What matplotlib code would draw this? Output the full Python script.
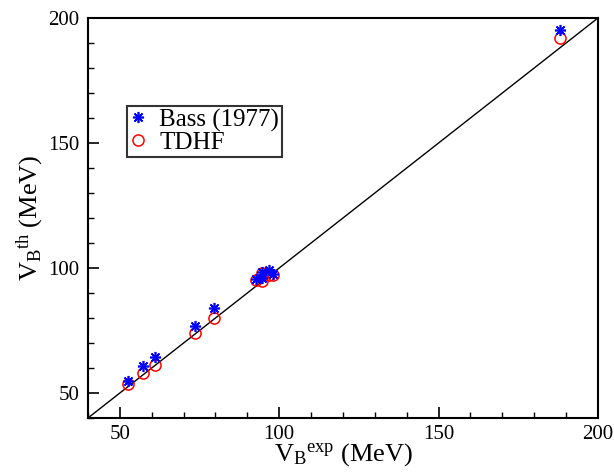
import matplotlib
matplotlib.use("Agg")
import matplotlib.pyplot as plt
import numpy as np

plt.rcParams['font.family'] = ['Liberation Serif', 'DejaVu Serif']
plt.rcParams['mathtext.fontset'] = 'custom'
plt.rcParams['mathtext.rm'] = 'Liberation Serif'
plt.rcParams['mathtext.it'] = 'Liberation Serif'

# experimental barriers (MeV)
v_exp = [52.6, 57.4, 61.0, 73.6, 79.5, 92.6, 94.6, 94.7, 96.9, 97.9, 188.0]
# theory
v_bass = [54.8, 60.9, 64.3, 76.8, 84.1, 95.5, 98.5, 96.0, 99.2, 97.7, 195.0]
v_tdhf = [53.5, 57.9, 61.3, 74.1, 79.9, 95.2, 98.1, 94.9, 97.2, 97.3, 192.0]
diag = [40, 200]

fig = plt.figure(figsize=(6.14, 4.73), dpi=100)
ax = fig.add_axes([0.1433, 0.1163, 0.8306, 0.8457])

ax.plot(diag, diag, color='black', lw=1.0, zorder=1)
ax.plot(v_exp, v_bass, ls='none', marker=(8, 2, 0), ms=8, mew=1.2,
        color='blue', label='Bass (1977)', zorder=3)
ax.plot(v_exp, v_tdhf, ls='none', marker='o', ms=8, mfc='none', mew=1.1,
        color='red', label='TDHF', zorder=2)

ax.set_xlim(40, 200)
ax.set_ylim(40, 200)
ax.set_xticks([50, 100, 150, 200])
ax.set_yticks([50, 100, 150, 200])
ax.set_xticks(np.arange(40, 201, 10), minor=True)
ax.set_yticks(np.arange(40, 201, 10), minor=True)
ax.tick_params(which='major', direction='in', length=8, width=1.2, labelsize=15)
ax.tick_params(which='minor', direction='in', length=4, width=1.0)
ax.tick_params(axis='x', pad=5)
ax.tick_params(axis='y', pad=6)
for s in ax.spines.values():
    s.set_linewidth(1.5)

ax.set_xlabel(r'$\mathrm{V_B{}^{exp}}$ (MeV)', fontsize=19, labelpad=-2)
ax.set_ylabel(r'$\mathrm{V_B{}^{th}}$ (MeV)', fontsize=19, labelpad=2)

leg = ax.legend(loc='upper left', bbox_to_anchor=(0.076, 0.78), fontsize=18,
                frameon=True, fancybox=False, edgecolor='black',
                handlelength=0.7, handletextpad=0.5, borderpad=0.1,
                labelspacing=0.0, borderaxespad=0)
leg.get_frame().set_linewidth(1.5)

fig.savefig('out.png', dpi=100)
